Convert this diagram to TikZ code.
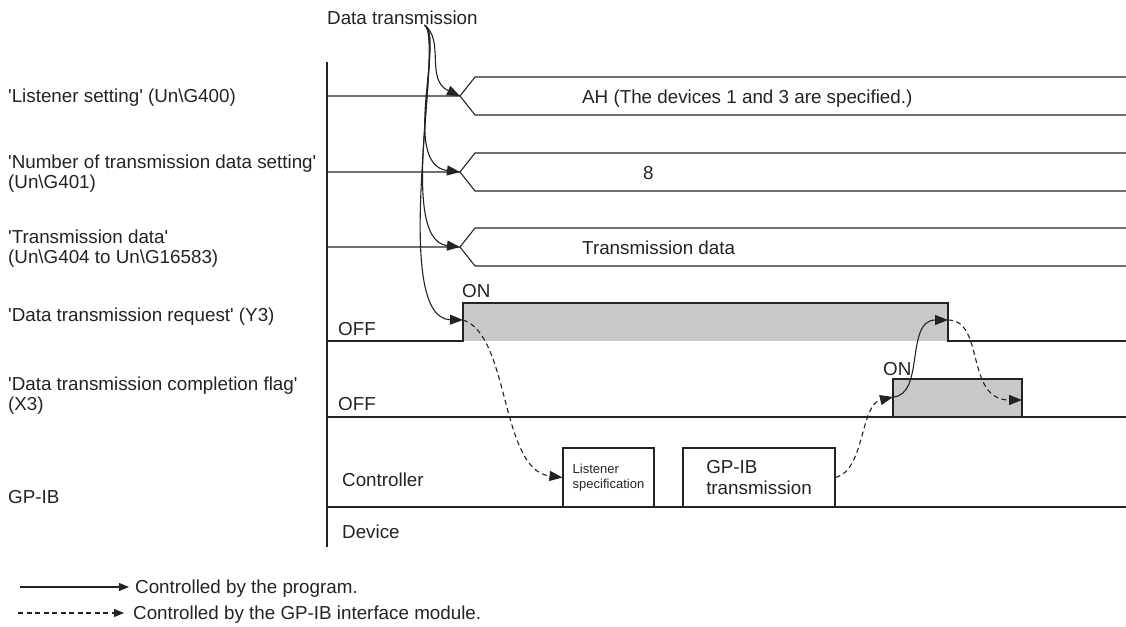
\documentclass[tikz,border=0pt]{standalone}
\usepackage{fontspec}
\setmainfont{Liberation Sans}[Ligatures=TeXOff]
\usetikzlibrary{arrows.meta}
\definecolor{ink}{RGB}{35, 35, 35}
\definecolor{pulse}{RGB}{200, 200, 200}
\tikzset{
  sig/.style={line width=1.1pt, draw=ink},
  ctl/.style={sig, -{Triangle[length=13pt, width=10pt]}},
  isr/.style={ctl, dash pattern=on 5pt off 3.5pt},
  key/.style={sig, -{Triangle[length=10pt, width=8pt]}},
  lbl/.style={inner sep=0pt, anchor=west, align=left},
  procbox/.style={draw=ink, line width=1.1pt, minimum height=59pt, inner sep=0pt, align=left},
}
\newcommand{\busrow}[2]{
  \draw[sig] (327, #1) -- (460, #1) coordinate (#2) -- (475, #1 - 19) -- (1126, #1 - 19);
  \draw[sig] (460, #1) -- (475, #1 + 19) -- (1126, #1 + 19);
}

\begin{document}
\begin{tikzpicture}[x=1pt, y=-1pt, text=ink, font=\fontsize{18.8}{20}\selectfont]
      \useasboundingbox (0, 0) rectangle (1126, 626);

      % signal names
      \node[lbl] (lsetl) at (8, 98) {'Listener setting' (Un\textbackslash G400)};
      \node[lbl] (nsetl) at (8, 173.5) {'Number of transmission data setting'\\(Un\textbackslash G401)};
      \node[lbl] (tdatl) at (8, 248.5) {'Transmission data'\\(Un\textbackslash G404 to Un\textbackslash G16583)};
      \node[lbl] (y3l) at (8, 316.5) {'Data transmission request' (Y3)};
      \node[lbl] (x3l) at (8, 396) {'Data transmission completion flag'\\(X3)};
      \node[lbl] (gpibl) at (8, 497) {GP-IB};

      \draw[sig] (327, 62) -- (327, 547);

      % data rows
      \busrow{96}{lset}
      \busrow{172}{nset}
      \busrow{247}{tdat}
      \node[lbl] (lsetv) at (582, 98.5) {AH (The devices 1 and 3 are specified.)};
      \node[lbl] (nsetv) at (643, 173) {8};
      \node[lbl] (tdatv) at (582, 248) {Transmission data};

      % Y3
      \fill[pulse] (463, 303) rectangle (948, 341);
      \draw[sig] (327, 341) -- (463, 341) -- (463, 303) -- (948, 303) -- (948, 341) -- (1126, 341);
      \node[lbl] (y3lo) at (338, 329) {OFF};
      \node[lbl] (y3hi) at (462, 291) {ON};

      % X3
      \fill[pulse] (893, 379) rectangle (1022, 417);
      \draw[sig] (893, 417) -- (893, 379) -- (1022, 379) -- (1022, 417);
      \draw[sig] (327, 417) -- (1126, 417);
      \node[lbl] (x3lo) at (338, 404) {OFF};
      \node[lbl] (x3hi) at (883, 369) {ON};

      % GP-IB
      \draw[sig] (327, 507) -- (1126, 507);
      \node[lbl] (ctrl) at (342, 480) {Controller};
      \node[lbl] (dev) at (342, 532) {Device};
      \node[procbox, minimum width=91pt, font=\fontsize{13}{15.5}\selectfont] (lsn) at (608.5, 477.5) {Listener\\specification};
      \node[procbox, minimum width=152pt, font=\fontsize{18.8}{21}\selectfont] (gtx) at (759, 477.5) {GP-IB\\transmission};

      \coordinate (y3on) at (463, 320);
      \coordinate (y3off) at (948, 320);
      \coordinate (x3on) at (893, 397);
      \coordinate (x3off) at (1022, 400);

      \node[lbl] (dt) at (327, 18) {Data transmission};
      \coordinate (dtfoot) at ([xshift=22pt]dt.south);
      \draw[ctl] (dtfoot) .. controls (445, 40) and (425, 80) .. (lset);
      \draw[ctl] (dtfoot) .. controls (445, 35) and (400, 165) .. (nset);
      \draw[ctl] (dtfoot) .. controls (445, 35) and (395, 240) .. (tdat);
      \draw[ctl] (dtfoot) .. controls (445, 35) and (388, 318) .. (y3on);
      \draw[isr] (y3on) .. controls (510, 335) and (500, 470) .. (lsn.west);
      \draw[isr] (gtx.east) .. controls (865, 470) and (860, 405) .. (x3on);
      \draw[ctl] (x3on) .. controls (925, 395) and (905, 320) .. (y3off);
      \draw[isr] (y3off) .. controls (985, 320) and (965, 400) .. (x3off);

      % legend
      \node[lbl] (prog) at (135, 588.5) {Controlled by the program.};
      \node[lbl] (modl) at (133, 614.5) {Controlled by the GP-IB interface module.};
      \coordinate (lgA) at (20, 587);
      \coordinate (lgB) at (18, 613);
      \draw[key] (lgA) -- ([xshift=-6pt]lgA -| prog.west);
      \draw[key, dash pattern=on 5pt off 3.5pt] (lgB) -- ([xshift=-9pt]lgB -| modl.west);
    \end{tikzpicture}
\end{document}
